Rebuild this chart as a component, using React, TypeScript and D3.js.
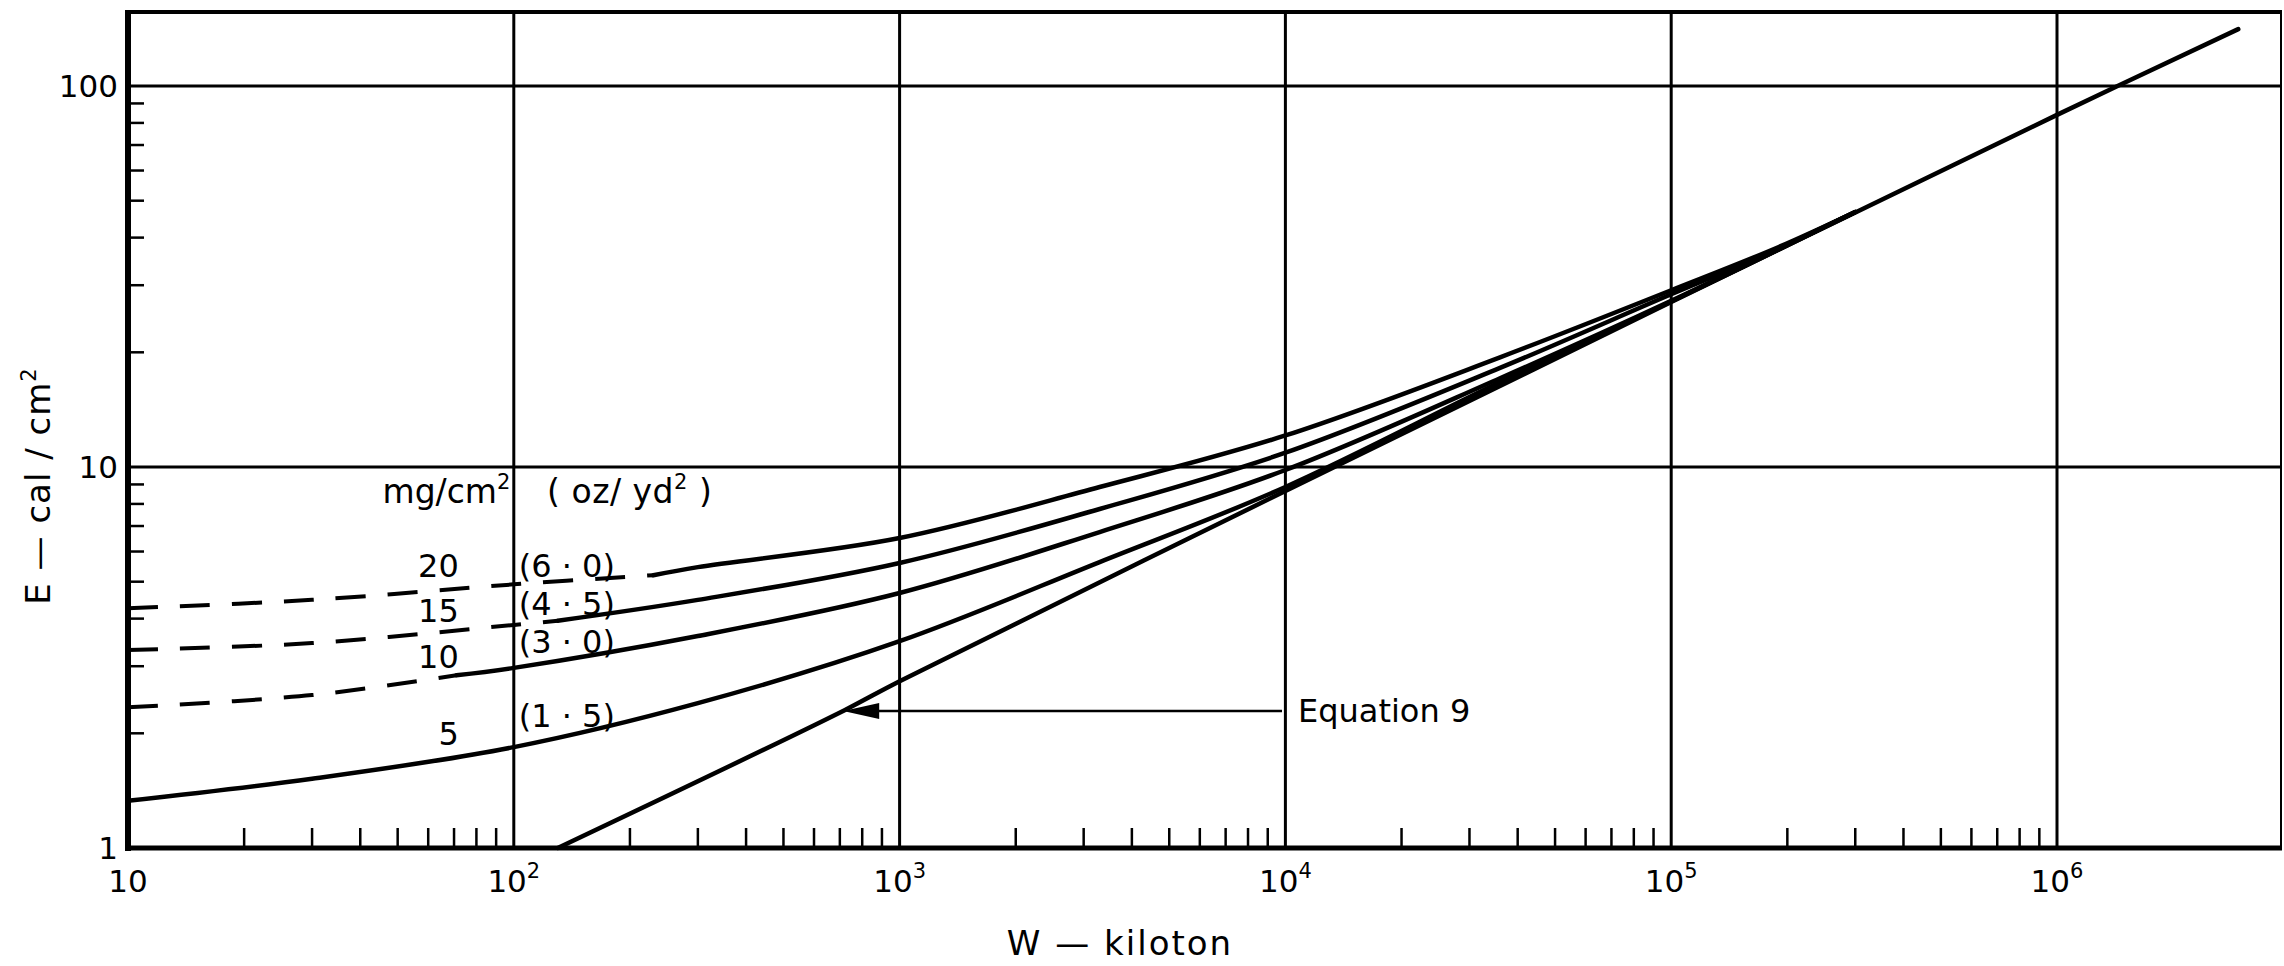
import React from 'react';
import * as d3 from 'd3';

// W (kiloton) vs E (cal/cm^2)
const eq9 = [[130, 1], [720, 2.3], [1000, 2.74], [1e4, 8.65], [1e5, 27.1], [1e6, 84], [2.95e6, 141]];

const curve20Dashed = [[10, 4.26], [30, 4.48], [100, 4.92], [230, 5.2]];
const curve20Solid = [[230, 5.2], [300, 5.46], [1000, 6.51], [3300, 8.86], [1e4, 12.1], [3.6e4, 19.4], [1e5, 29.1], [1.9e5, 37.8], [3e5, 46.7]];

const curve15Dashed = [[10, 3.31], [30, 3.45], [100, 3.85], [130, 3.95]];
const curve15Solid = [[130, 3.95], [300, 4.48], [1000, 5.6], [3300, 7.76], [1e4, 10.9], [3.6e4, 18.2], [1e5, 28.4], [1.7e5, 35.6], [3e5, 46.7]];

const curve10Dashed = [[10, 2.34], [30, 2.52], [71, 2.84]];
const curve10Solid = [[71, 2.84], [100, 2.97], [300, 3.6], [1000, 4.67], [3300, 6.75], [1e4, 9.82], [3.6e4, 17.1], [1e5, 27.3], [3e5, 46.7]];

const curve5Solid = [[10, 1.33], [30, 1.52], [100, 1.84], [300, 2.4], [1000, 3.49], [3300, 5.63], [1e4, 8.86], [3.6e4, 16.7], [1e5, 27.2], [3e5, 46.7]];

const dashedCurves = [curve20Dashed, curve15Dashed, curve10Dashed];
const solidCurves = [curve20Solid, curve15Solid, curve10Solid, curve5Solid, eq9];

// legend text and where it sits (W, E)
const legendNumbers = ['20', '15', '10', '5'];
const legendNumberE = [5.15, 3.92, 2.97, 1.86];
const legendOz = ['(6 · 0)', '(4 · 5)', '(3 · 0)', '(1 · 5)'];
const legendOzE = [5.15, 4.09, 3.25, 2.08];

const xTickValues = [10, 100, 1e3, 1e4, 1e5, 1e6];
const xTickExponents = ['', '2', '3', '4', '5', '6'];
const yTickValues = [1, 10, 100];
const yTickLabels = ['1', '10', '100'];

// arrow to equation 9
const arrowFrom = [9800, 2.29];
const arrowTo = [714, 2.29];

const width = 2284;
const height = 966;
const left = 128, right = 2282, top = 12, bottom = 848;

const isPow10 = (v) => Math.abs(Math.log10(v) - Math.round(Math.log10(v))) < 1e-6;

export default function App() {
  const x = d3.scaleLog().domain([10, 1e6]).range([left, 2057]);
  const y = d3.scaleLog().domain([1, 100]).range([bottom, 86]);

  const line = d3.line()
    .x(d => x(d[0]))
    .y(d => y(d[1]))
    .curve(d3.curveCatmullRom.alpha(0.5));

  const xMinor = x.ticks().filter(v => !isPow10(v) && v > 10 && v < 1e6);
  const yMinor = y.ticks().filter(v => !isPow10(v));

  const font = "'DejaVu Sans', sans-serif";
  const ax = x(arrowTo[0]), ay = y(arrowTo[1]);

  return (
    <div style={{ position: 'absolute', left: 0, top: 0 }}>
      <svg width={width} height={height} fontFamily={font} style={{ display: 'block', background: '#fff' }}>
        {/* grid */}
        {xTickValues.slice(1).map(v => (
          <line key={'gx' + v} x1={x(v)} x2={x(v)} y1={top} y2={bottom} stroke="#000" strokeWidth={3} />
        ))}
        {yTickValues.slice(1).map(v => (
          <line key={'gy' + v} x1={left} x2={right} y1={y(v)} y2={y(v)} stroke="#000" strokeWidth={3} />
        ))}

        {/* frame */}
        <line x1={left} x2={right} y1={top} y2={top} stroke="#000" strokeWidth={4} />
        <line x1={right - 1} x2={right - 1} y1={top} y2={bottom} stroke="#000" strokeWidth={2} />
        <line x1={left} x2={left} y1={top - 2} y2={bottom + 3} stroke="#000" strokeWidth={6} />
        <line x1={left - 3} x2={right} y1={bottom} y2={bottom} stroke="#000" strokeWidth={5} />

        {/* minor ticks */}
        {xMinor.map(v => (
          <line key={'mx' + v} x1={x(v)} x2={x(v)} y1={bottom} y2={bottom - 20} stroke="#000" strokeWidth={2.5} />
        ))}
        {yMinor.map(v => (
          <line key={'my' + v} x1={left} x2={left + 16} y1={y(v)} y2={y(v)} stroke="#000" strokeWidth={2.5} />
        ))}

        {/* tick labels */}
        {xTickValues.map((v, i) => (
          <text key={'tx' + v} x={x(v)} y={892} fontSize={31} textAnchor="middle">
            10{xTickExponents[i] && <tspan dy={-14} fontSize={21}>{xTickExponents[i]}</tspan>}
          </text>
        ))}
        {yTickValues.map((v, i) => (
          <text key={'ty' + v} x={left - 10} y={y(v)} dy="0.36em" fontSize={31} textAnchor="end">{yTickLabels[i]}</text>
        ))}

        {/* curves */}
        {dashedCurves.map((c, i) => (
          <path key={'d' + i} d={line(c)} fill="none" stroke="#000" strokeWidth={4} strokeDasharray="30 22" />
        ))}
        {solidCurves.map((c, i) => (
          <path key={'s' + i} d={line(c)} fill="none" stroke="#000" strokeWidth={4.5} strokeLinecap="round" />
        ))}

        {/* equation 9 arrow */}
        <line x1={x(arrowFrom[0])} x2={ax + 30} y1={y(arrowFrom[1])} y2={ay} stroke="#000" strokeWidth={2.5} />
        <path d={`M${ax},${ay} L${ax + 36},${ay - 8} L${ax + 36},${ay + 8} Z`} fill="#000" />
        <text x={x(arrowFrom[0]) + 16} y={ay + 11} fontSize={32}>Equation 9</text>

        {/* legend */}
        <text x={x(98)} y={y(8.05)} fontSize={33} textAnchor="end">
          mg/cm<tspan dy={-14} fontSize={21}>2</tspan>
        </text>
        <text x={x(122)} y={y(8.05)} fontSize={33} letterSpacing={0.5}>
          ( oz/ yd<tspan dy={-14} fontSize={21}>2</tspan><tspan dy={14}> )</tspan>
        </text>
        {legendNumbers.map((t, i) => (
          <text key={'ln' + t} x={x(72)} y={y(legendNumberE[i])} fontSize={32} textAnchor="end">{t}</text>
        ))}
        {legendOz.map((t, i) => (
          <text key={'lo' + t} x={x(103)} y={y(legendOzE[i])} fontSize={32}>{t}</text>
        ))}

        {/* axis titles */}
        <text x={1120} y={955} fontSize={34} textAnchor="middle" letterSpacing={2}>W — kiloton</text>
        <text transform="translate(50,486) rotate(-90)" fontSize={34} textAnchor="middle" letterSpacing={1}>
          E — cal / cm<tspan dy={-14} fontSize={21}>2</tspan>
        </text>
      </svg>
    </div>
  );
}
